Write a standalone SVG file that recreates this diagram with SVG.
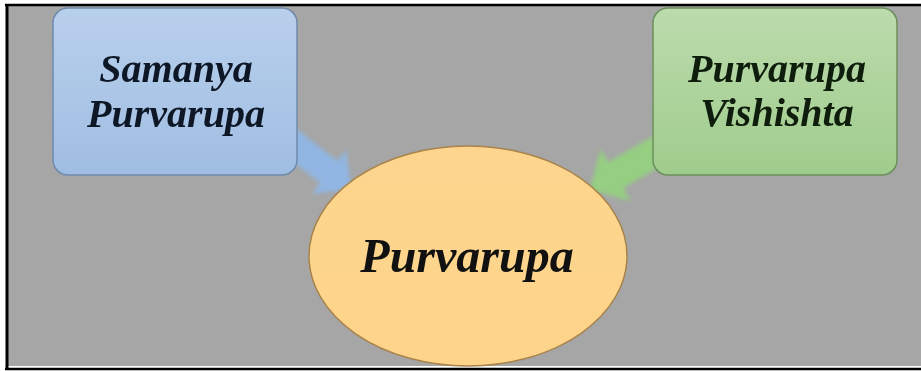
<svg xmlns="http://www.w3.org/2000/svg" width="921" height="371" viewBox="0 0 921 371">
  <defs>
    <linearGradient id="gBlue" x1="0" y1="0" x2="0" y2="1">
      <stop offset="0" stop-color="#b9d0ec"/>
      <stop offset="1" stop-color="#9fbde2"/>
    </linearGradient>
    <linearGradient id="gGreen" x1="0" y1="0" x2="0" y2="1">
      <stop offset="0" stop-color="#bcdbad"/>
      <stop offset="1" stop-color="#9fcc8c"/>
    </linearGradient>
    <linearGradient id="gOrange" x1="0" y1="0" x2="0" y2="1">
      <stop offset="0" stop-color="#fed58e"/>
      <stop offset="1" stop-color="#fdd489"/>
    </linearGradient>
    <filter id="soft" x="-20%" y="-20%" width="140%" height="140%">
      <feGaussianBlur stdDeviation="2"/>
    </filter>
  </defs>
  <style>
    .lbl { font-family: "Liberation Serif", "Times New Roman", serif; font-weight: bold; font-style: italic; text-anchor: middle; }
    .box { stroke-width: 1.5; }
  </style>

  <!-- frame -->
  <rect x="0" y="0" width="921" height="371" fill="#ffffff"/>
  <rect x="7" y="5" width="914" height="361" fill="#a6a6a6"/>
  <line x1="5" y1="5" x2="921" y2="5" stroke="#000" stroke-width="2.5"/>
  <line x1="7" y1="4" x2="7" y2="370" stroke="#000" stroke-width="3"/>
  <line x1="5" y1="369" x2="921" y2="369" stroke="#000" stroke-width="2.5"/>

  <!-- connectors: broad block arrows into the central ellipse -->
  <g id="connectors" filter="url(#soft)">
    <polygon transform="translate(288,140) rotate(38)" points="0,-14 52,-14 52,-28 80,0 52,28 52,14 0,14" fill="#8fb6e6" opacity="0.95"/>
    <polygon transform="translate(666,146) rotate(150)" points="0,-15 58,-15 58,-30 88,0 58,30 58,15 0,15" fill="#95d080" opacity="0.95"/>
  </g>

  <g id="node-samanya">
    <rect class="box" x="53" y="8" width="244" height="167" rx="15" fill="url(#gBlue)" stroke="#6f8aad"/>
    <text class="lbl" x="176" y="82" font-size="40" fill="#0e1726">Samanya</text>
    <text class="lbl" x="176" y="127" font-size="40" fill="#0e1726">Purvarupa</text>
  </g>

  <g id="node-vishishta">
    <rect class="box" x="653" y="8" width="244" height="167" rx="15" fill="url(#gGreen)" stroke="#6c8f5c"/>
    <text class="lbl" x="777" y="82" font-size="40" fill="#0f1d0c">Purvarupa</text>
    <text class="lbl" x="777" y="126" font-size="40" fill="#0f1d0c">Vishishta</text>
  </g>

  <g id="node-purvarupa">
    <ellipse cx="468" cy="256" rx="159" ry="110" fill="url(#gOrange)" stroke="#a8834c" stroke-width="1.5"/>
    <text class="lbl" x="467" y="272" font-size="48" fill="#111">Purvarupa</text>
  </g>
</svg>
